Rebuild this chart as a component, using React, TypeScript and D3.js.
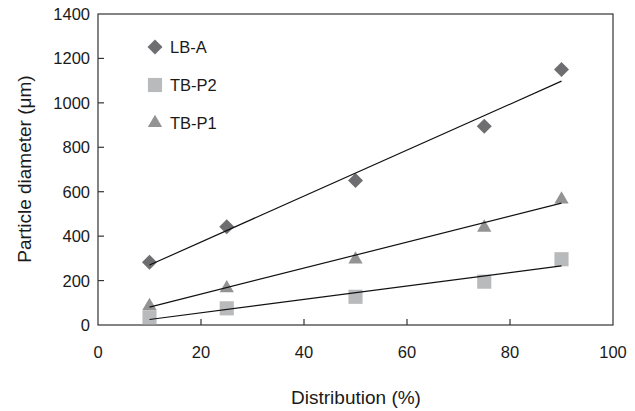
import React from "react";
import * as d3 from "d3";

const distribution = [10, 25, 50, 75, 90];
const lbA = [282, 442, 650, 895, 1150];
const tbP2 = [35, 75, 127, 195, 296];
const tbP1 = [90, 170, 300, 443, 570];
const xTicks = [0, 20, 40, 60, 80, 100];
const yTicks = [0, 200, 400, 600, 800, 1000, 1200, 1400];

const W = 635, H = 411;
const M = { left: 98, right: 613, top: 14, bottom: 325 };

function fit(xs: number[], ys: number[]) {
  const mx = d3.mean(xs)!, my = d3.mean(ys)!;
  let sxy = 0, sxx = 0;
  xs.forEach((x, i) => { sxy += (x - mx) * (ys[i] - my); sxx += (x - mx) ** 2; });
  const b = sxy / sxx;
  const a = my - b * mx;
  return (x: number) => a + b * x;
}

export default function App() {
  const x = d3.scaleLinear().domain([0, 100]).range([M.left, M.right]);
  const y = d3.scaleLinear().domain([0, 1400]).range([M.bottom, M.top]);
  const font = "'Liberation Sans', Arial, sans-serif";
  const series = [
    { name: "LB-A", vals: lbA, color: "#6e6e70", shape: d3.symbolSquare, size: 112, rot: 45, dy: 0, legendY: 47 },
    { name: "TB-P1", vals: tbP1, color: "#939394", shape: d3.symbolTriangle, size: 88, rot: 0, dy: 1, legendY: 123 },
    { name: "TB-P2", vals: tbP2, color: "#b9babc", shape: d3.symbolSquare, size: 200, rot: 0, dy: 0, legendY: 85 },
  ];
  const line = d3.line<[number, number]>().x(d => x(d[0])).y(d => y(d[1]));
  return (
    <svg width={W} height={H} style={{ position: "absolute", left: 0, top: 0 }} fontFamily={font}>
      <rect x={0} y={0} width={W} height={H} fill="#fff" />
      <rect x={M.left} y={M.top} width={M.right - M.left} height={M.bottom - M.top} fill="none" stroke="#333" strokeWidth={1.2} />
      {xTicks.map(t => (
        <g key={"x" + t}>
          {t > 0 && t < 100 && <line x1={x(t)} x2={x(t)} y1={M.bottom} y2={M.bottom - 6} stroke="#333" strokeWidth={1.2} />}
          <text x={x(t)} y={358} textAnchor="middle" fontSize={16.5} fill="#1a1a1a">{t}</text>
        </g>
      ))}
      {yTicks.map(t => (
        <g key={"y" + t}>
          {t > 0 && t < 1400 && <line x1={M.left} x2={M.left + 6} y1={y(t)} y2={y(t)} stroke="#333" strokeWidth={1.2} />}
          <text x={90} y={y(t) + 6} textAnchor="end" fontSize={16.5} fill="#1a1a1a">{t}</text>
        </g>
      ))}
      <text x={356} y={404} textAnchor="middle" fontSize={19} fill="#1a1a1a">Distribution (%)</text>
      <text transform={`translate(31,169) rotate(-90)`} textAnchor="middle" fontSize={19} fill="#1a1a1a">Particle diameter (μm)</text>
      {series.map(s => (
        <g key={s.name}>
          {s.vals.map((v, i) => (
            <path key={i} d={d3.symbol().type(s.shape).size(s.size)()!}
              transform={`translate(${x(distribution[i])},${y(v) + s.dy}) rotate(${s.rot})`} fill={s.color} />
          ))}
        </g>
      ))}
      {series.map(s => {
        const f = fit(distribution, s.vals);
        const x0 = distribution[0], x1 = distribution[distribution.length - 1];
        return <path key={"l" + s.name} d={line([[x0, f(x0)], [x1, f(x1)]])!} stroke="#111" strokeWidth={1.2} fill="none" />;
      })}
      {series.map(s => (
        <g key={"lg" + s.name}>
          <path d={d3.symbol().type(s.shape).size(s.size)()!} transform={`translate(155,${s.legendY}) rotate(${s.rot})`} fill={s.color} />
          <text x={170} y={s.legendY + 6} fontSize={16.5} fill="#1a1a1a">{s.name}</text>
        </g>
      ))}
    </svg>
  );
}
